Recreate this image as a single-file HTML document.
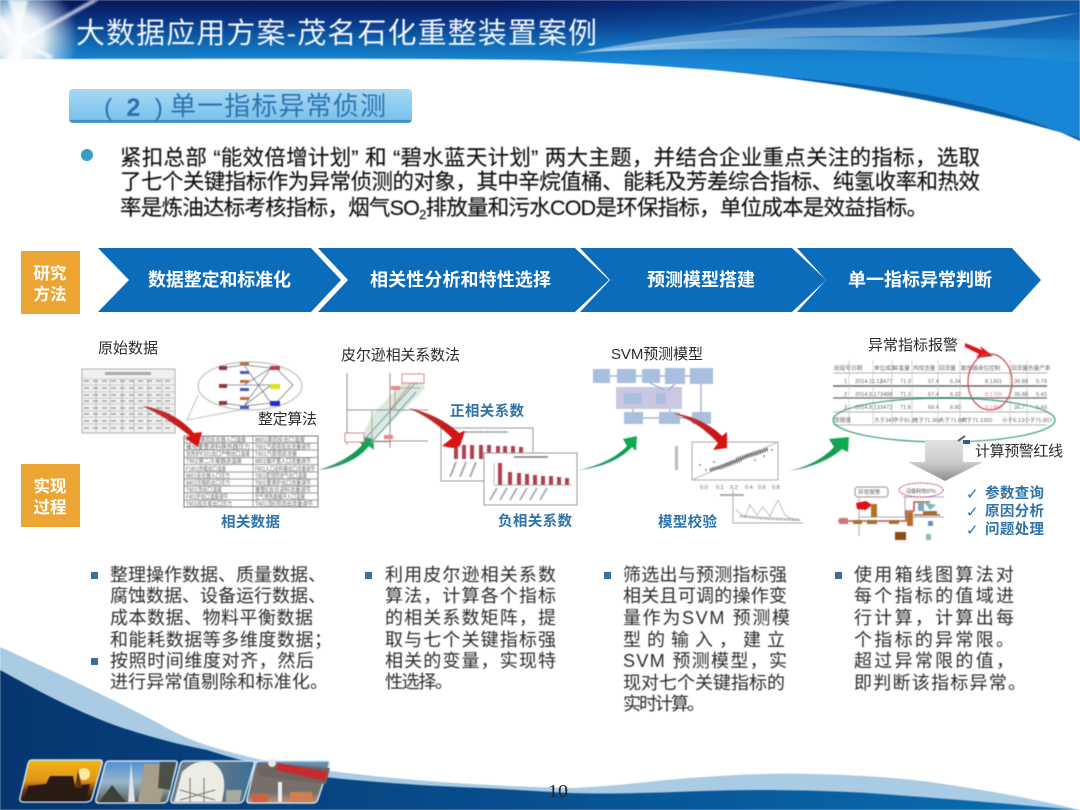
<!DOCTYPE html>
<html lang="zh-CN"><head><meta charset="utf-8"><title>大数据应用方案-茂名石化重整装置案例</title>
<style>
html,body{margin:0;padding:0;background:#fff;width:1080px;height:810px;overflow:hidden}
svg{display:block;position:absolute;left:0;top:0}
text{font-family:"Liberation Sans","Noto Sans CJK SC",sans-serif}
.soft{filter:blur(.4px)}
.tiny{filter:blur(.6px)}
.b{font-size:18px;fill:#2c2c2c}
.lab{font-size:15px;fill:#2c2c2c}
.blue{font-size:14.5px;font-weight:700;fill:#2f73a8}
.chev{font-size:18px;font-weight:700;fill:#fff}
.ora{font-size:16.5px;font-weight:700;fill:#fff;text-anchor:middle}
.p{font-size:21.5px;fill:#111;stroke:#111;stroke-width:.15px}
.cell{font-size:6px;fill:#666}
.cell2{font-size:5.6px;fill:#666}
</style></head><body>
<svg width="1080" height="810" viewBox="0 0 1080 810" xmlns="http://www.w3.org/2000/svg">
<defs>
<linearGradient id="hd" gradientUnits="userSpaceOnUse" x1="0" y1="0" x2="0" y2="62"><stop offset="0" stop-color="#07155a"/><stop offset=".35" stop-color="#0a3786"/><stop offset=".7" stop-color="#0f69b4"/><stop offset="1" stop-color="#1a88d6"/></linearGradient>
<linearGradient id="hdr" x1="0" y1="0" x2="1" y2="0"><stop offset="0" stop-color="#1585d6" stop-opacity="0"/><stop offset="1" stop-color="#1585d6" stop-opacity=".55"/></linearGradient>
<linearGradient id="hdl" x1="0" y1="0" x2="1" y2="0"><stop offset="0" stop-color="#0b69b4" stop-opacity=".9"/><stop offset=".25" stop-color="#0b69b4" stop-opacity="0"/></linearGradient>
<linearGradient id="sw" x1="0" y1="0" x2="1" y2="0"><stop offset="0" stop-color="#b4d8f0" stop-opacity=".85"/><stop offset=".5" stop-color="#5fa9de" stop-opacity=".8"/><stop offset="1" stop-color="#2f95dc" stop-opacity=".3"/></linearGradient>
<radialGradient id="glow"><stop offset="0" stop-color="#fff"/><stop offset=".4" stop-color="#fff" stop-opacity=".9"/><stop offset="1" stop-color="#fff" stop-opacity="0"/></radialGradient>
<filter id="bl"><feGaussianBlur stdDeviation="1.4"/></filter>
<linearGradient id="ft" x1="0" y1="0" x2="1" y2="0"><stop offset="0" stop-color="#06366f"/><stop offset=".5" stop-color="#08508f"/><stop offset="1" stop-color="#0a6fb2"/></linearGradient>
<linearGradient id="sub" x1="0" y1="0" x2="0" y2="1"><stop offset="0" stop-color="#a6d8f4"/><stop offset=".9" stop-color="#7cc2ec"/><stop offset=".92" stop-color="#3f8ec6"/><stop offset="1" stop-color="#4f9ccf"/></linearGradient>
<linearGradient id="red1" x1="0" y1="0" x2="1" y2="1"><stop offset="0" stop-color="#b43c3c"/><stop offset=".6" stop-color="#c81818"/><stop offset="1" stop-color="#e01010"/></linearGradient>
<linearGradient id="grn" x1="0" y1="1" x2="1" y2="0"><stop offset="0" stop-color="#3d9a78"/><stop offset=".6" stop-color="#119a52"/><stop offset="1" stop-color="#10b050"/></linearGradient>
<linearGradient id="gry" x1="0" y1="0" x2="0" y2="1"><stop offset="0" stop-color="#e2e2e2"/><stop offset=".55" stop-color="#cccccc"/><stop offset="1" stop-color="#8c8c8c"/></linearGradient>
<linearGradient id="ph1" x1="0" y1="0" x2="0" y2="1"><stop offset="0" stop-color="#f2b41a"/><stop offset=".5" stop-color="#e09416"/><stop offset=".72" stop-color="#6a3814"/><stop offset="1" stop-color="#1c1210"/></linearGradient>
<linearGradient id="ph2" x1="0" y1="0" x2="0" y2="1"><stop offset="0" stop-color="#4d8fcf"/><stop offset=".5" stop-color="#9ab6cc"/><stop offset="1" stop-color="#555a50"/></linearGradient>
<linearGradient id="ph3" x1="0" y1="0" x2="1" y2="0"><stop offset="0" stop-color="#70808a"/><stop offset=".6" stop-color="#5d7688"/><stop offset="1" stop-color="#3a7098"/></linearGradient>
<linearGradient id="ph4" x1="0" y1="0" x2="0" y2="1"><stop offset="0" stop-color="#5c98c8"/><stop offset=".3" stop-color="#7a6e6a"/><stop offset=".75" stop-color="#74706c"/><stop offset="1" stop-color="#c89070"/></linearGradient>
</defs>

<!-- header -->
<g class="soft">
<path d="M0,0H1080V141C1020,112 940,92 820,80C720,70 640,63 540,60C400,58 200,59 0,59Z" fill="url(#hd)"/>
<path d="M500,0H1080V141C1020,112 940,92 820,80C720,70 640,63 500,59Z" fill="url(#hdr)"/>
<path d="M0,0H260V59H0Z" fill="url(#hdl)"/>
<path d="M572,54C650,38 720,28 800,28C900,28 1000,22 1080,13C1000,30 930,38 860,36C760,36 660,46 572,54Z" fill="#bcdcf0" opacity=".55"/>
<path d="M585,52C700,36 840,34 1080,40V62C900,48 740,46 585,52Z" fill="url(#sw)"/>
<path d="M700,30C780,14 820,6 850,0L900,0C850,8 780,18 700,30Z" fill="#3d78bc" opacity=".45"/>
<path d="M545,60C700,64 900,84 1080,138V141C1020,112 940,92 820,80C720,70 640,63 545,60Z" fill="#0a5da6"/>
</g>
<g filter="url(#bl)">
<circle cx="20" cy="38" r="58" fill="url(#glow)"/>
<path d="M20,40L92,0H99L24,42ZM16,40L0,14V30ZM20,38L28,0H8ZM22,42L54,56L50,60ZM20,42L6,60H22Z" fill="#fff" opacity=".75"/>
</g>
<text x="76" y="43" font-size="29" fill="#f2f6fb" textLength="521" class="soft">大数据应用方案-茂名石化重整装置案例</text>

<!-- footer -->
<g class="soft">
<path d="M0,647C60,674 110,698 158,723C190,742 215,748 241,755C280,765 300,766 330,771C400,780 480,786 571,788C620,786 650,781 689,778C740,774 780,773 813,774C860,775 900,778 930,782C980,789 1030,798 1080,810H0Z" fill="#a9cbe4"/>
<path d="M0,670C45,695 85,715 120,727C150,737 180,745 207,750C250,764 290,772 324,777C380,783 430,786 482,788C520,790 550,792 571,793C640,795 700,790 758,790C810,790 860,792 895,795C950,799 1010,804 1080,810V810H0Z" fill="url(#ft)"/>
</g>
<!-- photos -->
<g class="soft" stroke="#cfe3f3" stroke-width="1.5">
<path d="M32,760H100Q103,760 102,764L92,798Q91,802 86,802H24Q19,802 20,798L28,764Q29,760 32,760Z" fill="url(#ph1)"/>
<path d="M109,761H175Q178,761 177,765L168,799Q167,803 163,803H99Q95,803 96,799L105,765Q106,761 109,761Z" fill="url(#ph2)"/>
<path d="M184,761H252Q255,761 254,765L244,799Q243,803 238,803H174Q170,803 171,799L180,765Q181,761 184,761Z" fill="url(#ph3)"/>
<path d="M259,761H327Q330,761 329,765L318,799Q317,803 313,803H250Q246,803 247,799L255,765Q256,761 259,761Z" fill="url(#ph4)"/>
</g>
<g class="tiny">
<path d="M23,801L28,786L46,784L50,776H73L75,786L90,784L86,801Z" fill="#2a1a14"/>
<circle cx="84" cy="774" r="6" fill="#ffe9a0"/><path d="M75,788L78,770L82,788Z" fill="#5a3414"/>
<path d="M138,803L144,764H158L168,772L160,803Z" fill="#a89e8a"/><path d="M99,802L112,785L126,802Z" fill="#3d4238"/><path d="M128,802L131,762L135,802Z" fill="#dfe6ea"/><path d="M160,762H176L170,790L158,788Z" fill="#4a5048"/>
<path d="M174,802L182,772Q196,758 212,762Q226,770 224,790L222,802Z" fill="#ecebe4"/><path d="M180,790L215,800M215,790L180,800M190,778V802M204,778V802" stroke="#7a7a70" stroke-width="1" fill="none"/>
<path d="M226,790H242L240,802H226Z" fill="#a8aaa0"/>
<path d="M256,770L258,763H268L330,768L326,784L260,776Z" fill="#6f6460"/>
<path d="M278,763L328,772L325,781L276,770Z" fill="#c82a30"/><circle cx="272" cy="763" r="4" fill="#e8e8e8"/>
<rect x="278" y="782" width="4" height="20" fill="#f0f0f0"/><rect x="252" y="794" width="16" height="8" fill="#d06040"/><rect x="290" y="792" width="22" height="10" fill="#d08050"/>
</g>
<text x="548" y="797" font-size="18" fill="#222" textLength="20" lengthAdjust="spacingAndGlyphs" style="font-family:'Liberation Serif',serif">10</text>

<!-- subtitle -->
<rect x="69" y="89" width="343" height="34" rx="4" fill="url(#sub)"/>
<text x="104" y="116" font-size="25" fill="#2d72ac" textLength="59" class="soft">( <tspan font-weight="700">2</tspan> )</text>
<text x="170" y="115" font-size="26" fill="#2d72ac" textLength="216" class="soft">单一指标异常侦测</text>

<!-- paragraph -->
<ellipse cx="87" cy="155" rx="6" ry="6" fill="#3a9cc8"/>
<g class="soft">
<text class="p" x="120" y="165" textLength="860">紧扣总部 “能效倍增计划” 和 “碧水蓝天计划” 两大主题，并结合企业重点关注的指标，选取</text>
<text class="p" x="120" y="189" textLength="860">了七个关键指标作为异常侦测的对象，其中辛烷值桶、能耗及芳差综合指标、纯氢收率和热效</text>
<text class="p" x="120" y="215" textLength="808">率是炼油达标考核指标，烟气SO<tspan font-size="13" dy="4">2</tspan><tspan dy="-4">排放量和污水COD是环保指标，单位成本是效益指标。</tspan></text>
</g>

<!-- chevrons -->
<rect x="21" y="251" width="59" height="63" fill="#eca432"/>
<text class="ora" x="50" y="279">研究</text><text class="ora" x="50" y="300">方法</text>
<g fill="#0c6cbc">
<path d="M98,248H311L341,280L311,312H98L129,280Z"/>
<path d="M318,248H575L609,280L575,312H318L348,280Z"/>
<path d="M580,248H792L826,280L792,312H580L610,280Z"/>
<path d="M797,248H1012L1041,280L1012,312H797L826,280Z"/>
</g>
<text class="chev" x="148" y="286" textLength="143">数据整定和标准化</text>
<text class="chev" x="370" y="286" textLength="181">相关性分析和特性选择</text>
<text class="chev" x="647" y="286" textLength="108">预测模型搭建</text>
<text class="chev" x="848" y="286" textLength="144">单一指标异常判断</text>
<rect x="21" y="464" width="59" height="63" fill="#eca432"/>
<text class="ora" x="50" y="492">实现</text><text class="ora" x="50" y="513">过程</text>

<!-- section 1 -->
<text class="lab" x="98" y="353" textLength="60">原始数据</text>
<g class="tiny">
<rect x="82" y="369" width="93" height="64" fill="#f0f0f0" stroke="#b0b0b0"/>
<path d="M82,379H175M82,385H175M82,392H175M82,398H175M82,404H175M82,411H175M82,417H175M82,424H175M96,379V432M110,379V432M122,379V432M134,379V432M148,379V432M162,379V432" stroke="#aaa" stroke-width=".6" fill="none"/>
<path d="M84,381H174M84,388H174M84,395H174M84,401H174M84,408H174M84,414H174M84,421H174M84,428H174" stroke="#999" stroke-width="1.3" stroke-dasharray="5 4" fill="none"/>
<rect x="105" y="372" width="46" height="3" fill="#aaa"/>
</g>
<g class="tiny">
<ellipse cx="250" cy="386" rx="52" ry="24" fill="#fff" stroke="#c8c8c0" stroke-width="1.4"/>
<path d="M198,395L187,420L240,410" fill="none" stroke="#ccc" stroke-width="1.2"/>
<path d="M223,368L244,365M223,385L244,385M223,403L244,406M244,365L271,368L244,385L271,385L244,406L271,403M244,365L271,403M244,406L271,368" stroke="#778" stroke-width=".8" fill="none"/>
<path d="M276,368L293,385L276,403" stroke="#778" stroke-width=".8" fill="none"/>
<g fill="#8b3a3a"><rect x="219" y="366" width="8" height="4"/><rect x="219" y="384" width="8" height="4"/><rect x="219" y="401" width="8" height="4"/></g>
<g fill="#c0703a"><rect x="240" y="362" width="9" height="3"/><rect x="240" y="380" width="9" height="3"/><rect x="240" y="397" width="9" height="3"/></g>
<g fill="#4a5ac0"><rect x="240" y="371" width="9" height="3"/><rect x="240" y="388" width="9" height="3"/><rect x="240" y="406" width="9" height="3"/></g>
<rect x="270" y="366" width="10" height="4" fill="#c03a4a"/><rect x="270" y="384" width="10" height="5" fill="#e0e020"/><rect x="270" y="401" width="10" height="5" fill="#2030c0"/>
</g>
<text class="lab" x="258" y="424" textLength="59">整定算法</text>
<g class="tiny">
<rect x="184" y="436" width="134" height="71" fill="#fff" stroke="#777"/>
<path d="M253,436V507M184,443H318M184,450H318M184,457.500H318M184,464.500H318M184,472H318M184,479H318M184,486H318M184,493H318M184,500H318" stroke="#777" stroke-width=".7" fill="none"/>
<g lengthAdjust="spacingAndGlyphs">
<text class="cell" x="186" y="442" textLength="60" lengthAdjust="spacingAndGlyphs">F1601第四反应器入口温度</text><text class="cell" x="255" y="442" textLength="50" lengthAdjust="spacingAndGlyphs">8601第四反出口温度</text>
<text class="cell" x="186" y="449" textLength="64" lengthAdjust="spacingAndGlyphs">催化重整进料换热器压力</text><text class="cell" x="255" y="449" textLength="56" lengthAdjust="spacingAndGlyphs">T601汽提塔底出流量调节</text>
<text class="cell" x="186" y="456" textLength="64" lengthAdjust="spacingAndGlyphs">加热炉F201出口产物出口温度</text><text class="cell" x="255" y="456" textLength="42" lengthAdjust="spacingAndGlyphs">T601汽提塔底流量</text>
<text class="cell" x="186" y="463" textLength="56" lengthAdjust="spacingAndGlyphs">T602第二冷凝器进温度</text><text class="cell" x="255" y="463" textLength="56" lengthAdjust="spacingAndGlyphs">8801循环氢入口流量调节</text>
<text class="cell" x="186" y="471" textLength="40" lengthAdjust="spacingAndGlyphs">F1601热载出口温度</text><text class="cell" x="255" y="471" textLength="60" lengthAdjust="spacingAndGlyphs">F601入口总料量出口流量调节</text>
<text class="cell" x="186" y="478" textLength="44" lengthAdjust="spacingAndGlyphs">8601反应器入口压力</text><text class="cell" x="255" y="478" textLength="52" lengthAdjust="spacingAndGlyphs">T601塔顶回流气出口温度</text>
<text class="cell" x="186" y="485" textLength="44" lengthAdjust="spacingAndGlyphs">8401压缩机出口压力</text><text class="cell" x="255" y="485" textLength="56" lengthAdjust="spacingAndGlyphs">T602重沸炉出口流量调节</text>
<text class="cell" x="186" y="492" textLength="36" lengthAdjust="spacingAndGlyphs">T601顶出口温度</text><text class="cell" x="255" y="492" textLength="56" lengthAdjust="spacingAndGlyphs">重整E反应进料流量调节</text>
<text class="cell" x="186" y="499" textLength="42" lengthAdjust="spacingAndGlyphs">F401炉出口温度调节</text><text class="cell" x="255" y="499" textLength="50" lengthAdjust="spacingAndGlyphs">空气预热器循环入口温度</text>
<text class="cell" x="186" y="506" textLength="46" lengthAdjust="spacingAndGlyphs">T601底压差出口压力</text><text class="cell" x="255" y="506" textLength="58" lengthAdjust="spacingAndGlyphs">T601顶E回流出流量调节</text>
</g>
</g>
<text class="blue" x="221" y="527" textLength="59">相关数据</text>
<path d="M142,406C165,409 183,420 194,433L202,432L198,447L185,438L190,436C175,424 160,414 142,406Z" fill="url(#red1)" class="soft"/>
<path d="M318,470C336,465 352,456 362,445L358,439L373,435L374,450L369,446C358,460 338,468 318,470Z" fill="url(#grn)" class="soft"/>

<!-- section 2 -->
<text class="lab" x="341" y="360" textLength="119">皮尔逊相关系数法</text>
<g class="tiny">
<path d="M362,436L375,440L425,388L420,372L405,380L372,415Z" fill="#d4e6d8" opacity=".85"/>
<path d="M347,445V373M347,441H428M347,410H428M390,373V448" stroke="#777" stroke-width=".8" fill="none"/>
<path d="M364,440L418,380M370,444L416,392" stroke="#7a9cb8" stroke-width="1" fill="none"/>
<path d="M372,410V442H390M390,410H395V388H420" stroke="#a98" stroke-width=".8" fill="none"/>
<path d="M390,410L412,382L418,384" stroke="#c88" stroke-width="1" fill="none"/>
<rect x="402" y="374" width="22" height="9" fill="#fff" stroke="#d88"/><rect x="345" y="433" width="19" height="9" fill="#fff" stroke="#d88"/>
<rect x="391" y="386" width="9" height="4" fill="#e88"/><rect x="384" y="435" width="9" height="4" fill="#e88"/>
</g>
<text class="blue" x="450" y="416" textLength="74">正相关系数</text>
<g class="tiny">
<rect x="441" y="428" width="92" height="53" fill="#fff" stroke="#999"/>
<path d="M456,445V459M464,445V459M472,445V459M481,445V459M489,445V459M498,446V459M505,446V459M513,446V459M521,447V459" stroke="#b24050" stroke-width="4"/>
<path d="M462,432H508" stroke="#777" stroke-width="1.5" stroke-dasharray="2 1"/>
<path d="M456,462L450,477M466,462L460,477M476,462L470,477" stroke="#aaa" stroke-width="2"/>
<rect x="484" y="453" width="93" height="52" fill="#fff" stroke="#999"/>
<path d="M500,463V485M510,472V485M519,473V485M527,474V485M535,475V485M543,476V485M551,476V485M559,477V485M567,478V485" stroke="#b24050" stroke-width="4"/>
<path d="M514,457H548" stroke="#777" stroke-width="1.5"/><path d="M494,463V484M494,485H572" stroke="#999" stroke-width=".7"/>
<path d="M497,488L490,500M507,488L500,500M517,488L510,500M527,488L520,500M537,488L530,500M547,488L540,500" stroke="#aaa" stroke-width="1.8"/>
</g>
<text class="blue" x="498" y="526" textLength="74">负相关系数</text>
<path d="M408,408C430,412 450,424 459,433L465,431L460,446L453,448L442,446L452,438C440,426 425,415 408,408Z" fill="url(#red1)" class="soft"/>
<path d="M578,470C600,466 618,456 627,446L623,439L637,436L636,451L632,447C620,460 600,468 578,470Z" fill="url(#grn)" class="soft"/>

<!-- section 3 -->
<text class="lab" x="611" y="359" textLength="92">SVM预测模型</text>
<g class="tiny">
<rect x="616" y="387" width="66" height="22" fill="#cbc7e0"/>
<g fill="#a8bfde"><rect x="593" y="369" width="17" height="14"/><rect x="617" y="369" width="19" height="14"/><rect x="642" y="369" width="18" height="14"/><rect x="665" y="368" width="20" height="16"/><rect x="690" y="368" width="23" height="16"/><rect x="624" y="412" width="19" height="12"/><rect x="659" y="412" width="21" height="12"/><rect x="692" y="412" width="19" height="12"/><rect x="624" y="393" width="18" height="11"/><rect x="656" y="393" width="10" height="11"/></g>
<path d="M610,376H617M636,376H642M660,376H665M685,376H690M701,384V412M650,383L664,390M675,384L668,390M633,409V412M643,418H659M680,418H692M670,409V412" stroke="#9aa8c8" stroke-width="1.2" fill="none"/>
</g>
<g class="tiny">
<rect x="692" y="442" width="86" height="38" fill="#fff" stroke="#aaa"/>
<path d="M692,480L778,442" stroke="#bbb"/>
<path d="M710,470L720,467L730,463L738,460L748,456L758,453L768,449" stroke="#555" stroke-width="3.4" stroke-dasharray="1.5 .8" fill="none"/>
<path d="M720,469L742,461M736,458L760,450" stroke="#777" stroke-width="1.5" stroke-dasharray="1 1" fill="none"/>
<g fill="#888"><circle cx="700" cy="465" r="1"/><circle cx="706" cy="470" r="1"/><circle cx="714" cy="462" r="1"/><circle cx="764" cy="456" r="1"/><circle cx="772" cy="450" r="1"/><circle cx="755" cy="460" r="1"/></g>
<text class="cell2" x="700" y="489">0.0</text><text class="cell2" x="716" y="489">0.1</text><text class="cell2" x="730" y="489">0.2</text><text class="cell2" x="745" y="489">0.4</text><text class="cell2" x="758" y="489">0.6</text><text class="cell2" x="772" y="489">0.8</text>
<rect x="675" y="446" width="3" height="24" fill="#bbb"/>
<path d="M733,490V523H803" stroke="#aaa" fill="none"/>
<path d="M736,510L745,517L750,505L757,515L763,507L770,516L778,500L785,515L790,518L800,520" stroke="#999" stroke-width="1.2" stroke-dasharray="1 1" fill="none"/>
<path d="M740,516L760,518L780,519L800,520" stroke="#888" stroke-width="2.5" stroke-dasharray="1 1" fill="none"/>
<rect x="720" y="494" width="24" height="2" fill="#aaa" transform="translate(0 0)"/>
</g>
<text class="blue" x="658" y="527" textLength="59">模型校验</text>
<path d="M673,413C695,416 712,426 722,436L727,432L727,448L713,450L718,443C706,430 692,420 673,413Z" fill="url(#red1)" class="soft"/>
<path d="M787,471C806,468 824,458 834,447L829,439L849,437L848,452L842,449C830,460 808,469 787,471Z" fill="url(#grn)" class="soft"/>

<!-- section 4 -->
<text class="lab" x="868" y="350" textLength="90">异常指标报警</text>
<path d="M965,343L982,350L980,346L993,356L976,358L979,354L965,347Z" fill="#e0141c" class="soft"/>
<g class="tiny">
<path d="M833,373H1047M833,386H1047M833,398H1047M833,412H1047M833,425H1047" stroke="#999" stroke-width=".8" fill="none"/>
<path d="M833,386H1047" stroke="#666" stroke-width="1.4"/>
<path d="M833,398H1047" stroke="#666" stroke-width="1.2"/>
<path d="M849,360V425M873,360V425M892,360V425M912,360V425M938,360V425M960,360V425M1010,360V425M1027,360V425" stroke="#bbb" stroke-width=".6" fill="none"/>
<text class="cell2"><tspan x="834" y="370">班组号</tspan><tspan x="851" y="370">日期</tspan><tspan x="874" y="370">单位成本</tspan><tspan x="893" y="370">冷氢量</tspan><tspan x="913" y="370">丙烷含量</tspan><tspan x="939" y="370">回流量</tspan><tspan x="961" y="370">散热器液位控制</tspan><tspan x="1011" y="370">回流量</tspan><tspan x="1028" y="370">热量产率</tspan></text>
<text class="cell2"><tspan x="844" y="383">1</tspan><tspan x="855" y="383">2014.11.12</tspan><tspan x="880" y="383">3477</tspan><tspan x="900" y="383">71.3</tspan><tspan x="928" y="383">57.4</tspan><tspan x="950" y="383">6.34</tspan><tspan x="985" y="383">8.1301</tspan><tspan x="1014" y="383">36.88</tspan><tspan x="1036" y="383">5.79</tspan></text>
<text class="cell2"><tspan x="844" y="396">2</tspan><tspan x="855" y="396">2014.9.17</tspan><tspan x="880" y="396">3488</tspan><tspan x="900" y="396">71.3</tspan><tspan x="928" y="396">67.4</tspan><tspan x="950" y="396">6.32</tspan><tspan x="985" y="396" style="fill:#d88">8.1709</tspan><tspan x="1014" y="396">36.88</tspan><tspan x="1036" y="396">5.43</tspan></text>
<text class="cell2"><tspan x="844" y="409">3</tspan><tspan x="855" y="409">2014.9.13</tspan><tspan x="880" y="409">3472</tspan><tspan x="900" y="409">71.8</tspan><tspan x="928" y="409">69.4</tspan><tspan x="950" y="409">6.90</tspan><tspan x="985" y="409" style="fill:#d88">8.1987</tspan><tspan x="1014" y="409">36.7</tspan><tspan x="1036" y="409">5.43</tspan></text>
<text class="cell2"><tspan x="834" y="422">提报值</tspan><tspan x="874" y="422">大于3477</tspan><tspan x="893" y="422">小于81.81</tspan><tspan x="913" y="422">大于71.364</tspan><tspan x="939" y="422">大于71.867</tspan><tspan x="961" y="422">大于71.1300</tspan><tspan x="1002" y="422">小于6.13</tspan><tspan x="1024" y="422">小于71.807</tspan></text>
</g>
<ellipse cx="990" cy="382" rx="22" ry="28" fill="none" stroke="#cf4448" stroke-width="1.2" class="soft"/>
<ellipse cx="944" cy="420" rx="111" ry="22" fill="none" stroke="#3b9d74" stroke-width="1.2" class="soft"/>
<path d="M925,440H963V462H983L945,481L908,462H925Z" fill="url(#gry)"/>
<path d="M958,441L965,436" stroke="#666" stroke-width="2"/>
<rect x="963" y="440" width="7" height="4" fill="#2f5c96"/>
<text class="lab" x="975" y="456" textLength="88">计算预警红线</text>
<g class="tiny">
<path d="M859,498V536M859,517H944M903,497H944M905,497V516" stroke="#a9a7b8" stroke-width="1" fill="none"/>
<path d="M838,521H906V511H914V502H930M914,515H940" stroke="#b85a50" stroke-width="1.6" fill="none"/>
<rect x="855" y="487" width="33" height="10" rx="3" fill="#fff" stroke="#aa8888"/>
<text class="cell2" x="858" y="494">异常报警</text>
<ellipse cx="921" cy="490" rx="22" ry="7" fill="#fff" stroke="#c36"  stroke-dasharray="2 1"/>
<text class="cell2" x="906" y="493" textLength="30">设备耗电97%</text>
<path d="M856,503L866,501L872,505L866,510L857,509Z" fill="#e01010"/>
<rect x="871" y="504" width="6" height="13" fill="#b4702a"/><rect x="907" y="512" width="6" height="14" fill="#b4702a"/><rect x="895" y="532" width="11" height="8" fill="#8a4a14"/>
<g fill="#a07030"><rect x="853" y="520" width="9" height="4"/><rect x="867" y="520" width="10" height="4"/><rect x="889" y="520" width="10" height="4"/><rect x="923" y="511" width="14" height="4"/></g>
<rect x="839" y="518" width="9" height="6" fill="#c77"/>
<rect x="918" y="503" width="6" height="8" fill="#7aa8b8"/><path d="M924,502L936,505L930,510Z" fill="#70c0c0"/>
<rect x="928" y="521" width="5" height="5" fill="#7a8ab8"/><rect x="926" y="534" width="5" height="6" fill="#88c0a8"/>
</g>
<text x="966" y="499" font-size="15" fill="#2f73a8" style="font-family:'DejaVu Sans',sans-serif">✓</text>
<text x="966" y="517" font-size="15" fill="#2f73a8" style="font-family:'DejaVu Sans',sans-serif">✓</text>
<text x="966" y="535" font-size="15" fill="#2f73a8" style="font-family:'DejaVu Sans',sans-serif">✓</text>
<text class="blue" x="985" y="498" textLength="59">参数查询</text>
<text class="blue" x="985" y="516" textLength="59">原因分析</text>
<text class="blue" x="985" y="534" textLength="59">问题处理</text>

<!-- bullets -->
<g fill="#3a6ea5">
<rect x="91" y="572" width="7" height="7"/><rect x="91" y="658" width="7" height="7"/>
<rect x="365" y="572" width="7" height="7"/><rect x="604" y="572" width="7" height="7"/><rect x="835" y="572" width="7" height="7"/>
</g>
<g class="soft">
<text class="b" x="110" y="581" textLength="216">整理操作数据、质量数据、</text>
<text class="b" x="110" y="602" textLength="216">腐蚀数据、设备运行数据、</text>
<text class="b" x="110" y="624" textLength="203">成本数据、物料平衡数据</text>
<text class="b" x="110" y="646" textLength="222">和能耗数据等多维度数据；</text>
<text class="b" x="110" y="667" textLength="204">按照时间维度对齐，然后</text>
<text class="b" x="110" y="688" textLength="218">进行异常值剔除和标准化。</text>

<text class="b" x="385" y="581" textLength="171">利用皮尔逊相关系数</text>
<text class="b" x="385" y="602" textLength="171">算法，计算各个指标</text>
<text class="b" x="385" y="624" textLength="171">的相关系数矩阵，提</text>
<text class="b" x="385" y="646" textLength="171">取与七个关键指标强</text>
<text class="b" x="385" y="667" textLength="171">相关的变量，实现特</text>
<text class="b" x="385" y="688" textLength="68">性选择。</text>

<text class="b" x="623" y="581" textLength="164">筛选出与预测指标强</text>
<text class="b" x="623" y="602" textLength="164">相关且可调的操作变</text>
<text class="b" x="623" y="624" textLength="167">量作为SVM 预测模</text>
<text class="b" x="623" y="646" textLength="162">型 的 输 入 ， 建 立</text>
<text class="b" x="623" y="667" textLength="164">SVM 预测模型，实</text>
<text class="b" x="623" y="689" textLength="162">现对七个关键指标的</text>
<text class="b" x="623" y="710" textLength="82">实时计算。</text>

<text class="b" x="854" y="581" textLength="160">使用箱线图算法对</text>
<text class="b" x="854" y="602" textLength="160">每个指标的值域进</text>
<text class="b" x="854" y="624" textLength="160">行计算，计算出每</text>
<text class="b" x="854" y="646" textLength="160">个指标的异常限。</text>
<text class="b" x="854" y="667" textLength="160">超过异常限的值，</text>
<text class="b" x="854" y="689" textLength="172">即判断该指标异常。</text>
</g>
</svg>
</body></html>
